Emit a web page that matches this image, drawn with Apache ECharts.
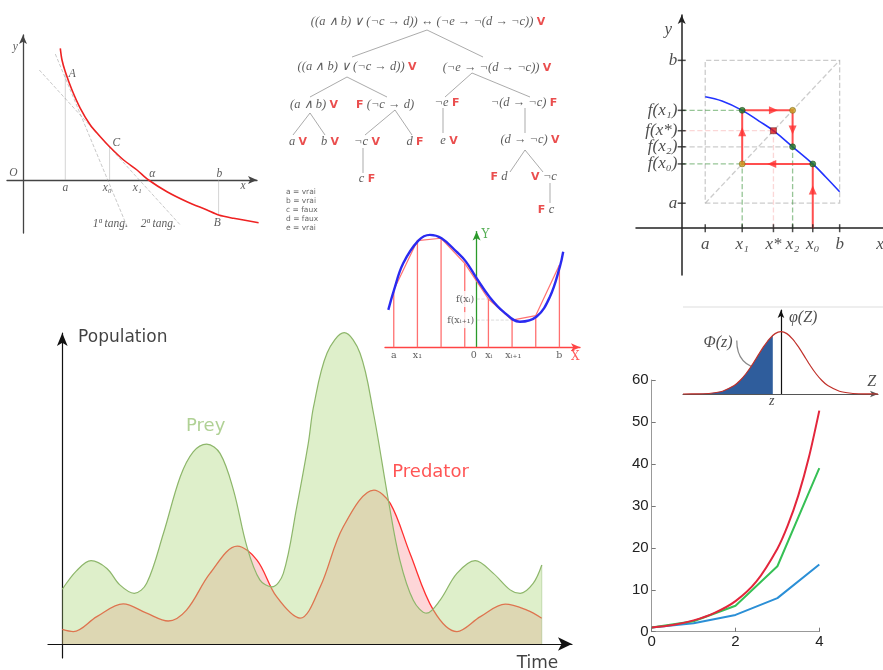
<!DOCTYPE html>
<html>
<head>
<meta charset="utf-8">
<script src="https://cdn.jsdelivr.net/npm/echarts@6/dist/echarts.min.js"></script>
<style>
html, body { margin: 0; padding: 0; background: #fff; }
#main { width: 883px; height: 670px; }
</style>
</head>
<body>
<div id="main"></div>
<script>
// ---------- newton's method (top left)
const newtonCurve = [[3.73,13.17],[3.9,12.0],[4.23,10.83],[4.9,9.0],[5.73,7.17],[6.73,5.5],[7.73,4.33],[8.66,3.33],[10.06,2.0],[11.4,1.0],[12.56,0],[14.4,-1.17],[16.4,-2.17],[18.4,-3.0],[19.56,-3.5],[21.06,-3.83],[23.56,-4.27]];
const newtonTangents = [[[3.23,12.6],[10.43,-4.7]], [[1.63,11.0],[15.73,-4.5]]];
const newtonFeet = [[4.23,10.83],[8.66,3.33],[19.56,-3.5]];
const newtonText = [['y',-0.77,13.3],['O',-0.97,0.7],['x',22.0,-0.6],['a',4.23,-0.75],['x₀',8.43,-0.8],['x₁',11.43,-0.8],['α',12.93,0.6],['b',19.63,0.6],['A',4.93,10.6],['C',9.33,3.7],['B',19.43,-4.3],['1ª tang.',8.73,-4.4],['2ª tang.',13.53,-4.4]];

// ---------- truth tree (top middle)
const treeNodes = [
  ['((a ∧ b) ∨ (¬c → d)) ↔ (¬e → ¬(d → ¬c))','V',148,22,0],
  ['((a ∧ b) ∨ (¬c → d))','V',77,67,0],
  ['(¬e → ¬(d → ¬c))','V',217,68,0],
  ['(a ∧ b)','V',34,105,0],
  ['(¬c → d)','F',105,105,1],
  ['¬e','F',167,103,0],
  ['¬(d → ¬c)','F',244,103,0],
  ['a','V',18,142,0],
  ['b','V',50,142,0],
  ['¬c','V',87,142,0],
  ['d','F',135,142,0],
  ['e','V',169,141,0],
  ['(d → ¬c)','V',250,140,0],
  ['c','F',87,179,0],
  ['d','F',219,177,1],
  ['¬c','V',264,177,1],
  ['c','F',266,210,1]
];
const treeEdges = [[[147,30],[72,57]],[[147,30],[203,57]],[[67,77],[30,97]],[[67,77],[107,97]],[[192,73],[165,97]],[[192,73],[250,97]],[[30,113],[13,135]],[[30,113],[45,135]],[[115,110],[85,135]],[[115,110],[132,135]],[[163,108],[163,133]],[[245,108],[245,133]],[[83,148],[83,173]],[[245,150],[230,172]],[[245,150],[263,172]],[[270,183],[270,203]]];
const treeLegend = ['a = vrai','b = vrai','c = faux','d = faux','e = vrai'];

// ---------- fixed point iteration (top right)
const cwA = 0.7, cwB = 4.7;
const cwTicksX = [0.7,1.8,2.73,3.3,3.9,4.7];
const cwNamesX = ['a','x₁','x*','x₂','x₀','b'];
const cwTicksY = [0.7,1.8,2.28,2.73,3.3,4.7];
const cwNamesY = ['a','f(x₀)','f(x₂)','f(x*)','f(x₁)','b'];
const cwCurve = [[0.7,3.68],[1.2,3.56],[1.8,3.3],[2.3,3.0],[2.73,2.73],[3.3,2.28],[3.9,1.8],[4.3,1.42],[4.7,1.02]];
const cwPath = [[3.9,0],[3.9,1.8],[1.8,1.8],[1.8,3.3],[3.3,3.3],[3.3,2.28]];
const cwArrows = [[3.9,1.07,0],[2.68,1.8,90],[1.8,2.7,0],[2.73,3.3,-90],[3.3,2.75,180]];
const cwDotsGreen = [[1.8,3.3],[3.3,2.28],[3.9,1.8]];
const cwDotsGold = [[3.3,3.3],[1.8,1.8]];
const cwFixed = [[2.73,2.73]];

// ---------- trapezoid rule (middle)
const trapX = [-3.5,-2.5,-1.5,-0.5,0.5,1.5,2.5,3.5];
const trapY = [2.42,4.51,4.61,3.55,2.04,1.15,1.34,3.48];
const trapCurve = [[-3.73,1.58],[-3.49,2.42],[-3.1,3.55],[-2.46,4.51],[-1.97,4.75],[-1.48,4.61],[-0.85,4.04],[-0.45,3.62],[0,2.92],[0.54,2.14],[1.13,1.51],[1.83,1.08],[2.54,1.3],[3.1,2.14],[3.52,3.41],[3.66,4.04]];
const trapNames = [['a',-3.5],['x₁',-2.5],['0',-0.12],['xᵢ',0.52],['xᵢ₊₁',1.55],['b',3.5]];

// ---------- normal distribution (right middle)
const bellZ = [-4.19,-3.5,-3,-2.5,-2,-1.75,-1.5,-1.25,-1,-0.75,-0.5,-0.25,0,0.25,0.5,0.75,1,1.25,1.5,1.75,2,2.5,3,3.5,4.15];
const bellPhi = [0,0.003,0.012,0.045,0.135,0.216,0.325,0.458,0.607,0.755,0.882,0.969,1,0.969,0.882,0.755,0.607,0.458,0.325,0.216,0.135,0.045,0.012,0.003,0];
const bellCut = -0.35;
const bellCutPhi = 0.94;

// ---------- growth curves (bottom right)
const expX = [0,1,2,3,4];
const expBlue = [1,2,4,8,16];
const expGreen = [1,2.5,6.2,15.6,39];
const expRedX = [0,0.5,1,1.5,2,2.5,3,3.25,3.5,3.75,4];
const expRed = [1,1.6,2.7,4.5,7.3,12,19.8,25.4,32.5,41.5,52.7];

// ---------- predator / prey (bottom left)
const preyData = [[0,17.6],[3,23.6],[6,26.8],[9.3,24.3],[12,19],[15,16.3],[17.6,19.5],[21.1,35.6],[24.6,53.8],[27.3,61.8],[30.1,64.3],[32.9,61.3],[35.7,49.5],[38.5,31.3],[41.2,20.6],[43.7,18.4],[46.1,22.7],[48.9,44.1],[51.3,64.5],[52.4,76.3],[55.2,93.5],[58.8,100.1],[62.1,93.5],[64.9,74.2],[68,46.3],[70.4,27],[73.2,14.1],[76,9.9],[78.8,14.1],[82.3,22.7],[86.1,26.8],[89.9,22.7],[93.4,17.4],[95.5,16.3],[98.2,19.5],[100,25.4]];
const predData = [[0,4.7],[2.3,4],[7.2,8.8],[12.7,12.9],[17.6,9.9],[22.1,7.4],[25.9,10.9],[30.8,22.7],[36.5,31.5],[40.6,27],[44.7,15.2],[49.6,8.3],[53.8,18.4],[58.6,37.7],[65,49.5],[68.4,45.2],[72.5,29.2],[77.4,10.9],[82.3,4],[87.2,8.8],[92.4,12.8],[96.9,10.9],[100,8.3]];

const serif = 'Liberation Serif';
const chart = echarts.init(document.getElementById('main'));

function ax(gi, min, max, extra) {
  return Object.assign({
    gridIndex: gi, type: 'value', min: min, max: max,
    splitLine: { show: false }, axisTick: { show: false },
    axisLabel: { show: false }, axisLine: { show: false }
  }, extra || {});
}
function arrowLine(color, width, size, noArrow) {
  return { show: true, onZero: true, symbol: noArrow ? 'none' : ['none', 'arrow'],
    symbolSize: size || [6, 9], lineStyle: { color: color, width: width } };
}
function texts(gi, items, label) {
  return {
    type: 'scatter', xAxisIndex: gi, yAxisIndex: gi, symbolSize: 0, clip: false, silent: true, z: 10,
    data: items.map(d => ({ value: [d[1], d[2]], name: d[0] })),
    label: Object.assign({ show: true, position: 'inside', formatter: p => p.name, color: '#333' }, label)
  };
}
function segs(gi, list, style, extra) {
  return Object.assign({
    type: 'lines', coordinateSystem: 'cartesian2d', xAxisIndex: gi, yAxisIndex: gi,
    polyline: true, silent: true, clip: false,
    data: list.map(c => ({ coords: c })), lineStyle: style
  }, extra || {});
}
function curve(gi, data, color, width, extra) {
  return Object.assign({
    type: 'line', xAxisIndex: gi, yAxisIndex: gi, data: data, showSymbol: false, silent: true,
    clip: false, lineStyle: { color: color, width: width }
  }, extra || {});
}

const grid = [
  { left: 7, top: 35, width: 250, height: 198 },        // 0 newton
  { left: 280, top: 0, width: 320, height: 235 },       // 1 tree
  { left: 636, top: 15, width: 247, height: 260 },      // 2 cobweb
  { left: 385, top: 231.6, width: 195, height: 115.7 }, // 3 trapezoid
  { left: 683, top: 310, width: 195, height: 84 },      // 4 bell
  { left: 651.7, top: 380, width: 167.6, height: 251.7 }, // 5 growth
  { left: 48, top: 333, width: 524, height: 325 }       // 6 predator/prey
];

const xAxis = [
  ax(0, -1.6, 23.4, { axisLine: arrowLine('#444', 1.3, [6, 9]) }),
  ax(1, 0, 320),
  ax(2, -1.36, 5.99, { axisLine: arrowLine('#222', 1.5, null, true) }),
  ax(3, -3.87, 4.37, { axisLine: arrowLine('#ff4444', 1.3, [6, 9]) }),
  ax(4, -4.19, 4.15, { axisLine: arrowLine('#555', 1.2, [5, 8]) }),
  { gridIndex: 5, type: 'value', min: 0, max: 4, interval: 2, splitLine: { show: false },
    axisLine: { lineStyle: { color: '#999' } }, axisTick: { inside: true, length: 4, lineStyle: { color: '#777' } },
    axisLabel: { color: '#222', fontSize: 15, fontFamily: 'Liberation Sans', margin: 3 } },
  ax(6, -2.98, 106.3, { axisLine: arrowLine('#111', 1.2, [10, 14]) })
];
const yAxis = [
  ax(0, -5.3, 14.5, { axisLine: arrowLine('#444', 1.3, [6, 9]) }),
  ax(1, 0, 235, { inverse: true }),
  ax(2, -1.31, 5.97, { axisLine: arrowLine('#222', 1.5, [6, 9]) }),
  ax(3, 0, 4.89, { axisLine: arrowLine('#2a9a2a', 1.3, [6, 9]) }),
  ax(4, 0, 1.348, { axisLine: arrowLine('#111', 1.2, [5, 8]) }),
  { gridIndex: 5, type: 'value', min: 0, max: 60, interval: 10, splitLine: { show: false },
    axisLine: { show: true, lineStyle: { color: '#999' } }, axisTick: { show: true, inside: true, length: 4, lineStyle: { color: '#777' } },
    axisLabel: { color: '#222', fontSize: 15, fontFamily: 'Liberation Sans', margin: 3 } },
  ax(6, -4.5, 100, { axisLine: arrowLine('#111', 1.2, [8, 13]) })
];

const series = [];

// newton
series.push(segs(0, newtonFeet.map(p => [[p[0], 0], p]), { color: '#aaa', width: 1 }));
series.push(segs(0, newtonTangents, { color: '#888', width: 0.9, type: 'dashed' }));
series.push(curve(0, newtonCurve, '#ee2222', 1.6, { smooth: 0.3 }));
series.push(texts(0, newtonText, { fontFamily: serif, fontStyle: 'italic', fontSize: 11.5, color: '#333' }));

// tree
series.push(segs(1, treeEdges, { color: '#444', width: 0.9 }));
series.push(texts(1, treeNodes.map(n => {
  const t = '{t|' + n[0] + '}', m = '{m|' + n[1] + '}';
  return [n[4] ? m + ' ' + t : t + ' ' + m, n[2], n[3]];
}), {
  rich: {
    t: { fontFamily: serif, fontStyle: 'italic', fontSize: 12.5, color: '#333' },
    m: { fontFamily: 'DejaVu Sans', fontWeight: 'bold', fontSize: 11, color: '#e52222' }
  }
}));
series.push(texts(1, treeLegend.map((s, i) => [s, 6, 192 + i * 9]), {
  position: 'right', distance: 0, fontFamily: 'DejaVu Sans', fontSize: 7.5, color: '#444'
}));

// cobweb
const dash = { type: 'dashed', width: 1.3 };
series.push(segs(2, [[[cwA, cwA], [cwB, cwA], [cwB, cwB], [cwA, cwB], [cwA, cwA]], [[cwA, cwA], [cwB, cwB]], [[0, 2.28], [3.3, 2.28]]],
  Object.assign({ color: '#999' }, dash)));
series.push(segs(2, [[[0, 3.3], [1.8, 3.3]], [[0, 1.8], [1.8, 1.8]], [[1.8, 0], [1.8, 1.8]], [[3.3, 0], [3.3, 2.28]]],
  Object.assign({ color: '#2e8b2e' }, dash)));
series.push(segs(2, [[[0, 2.73], [2.73, 2.73]], [[2.73, 0], [2.73, 2.73]]], Object.assign({ color: '#f7b0b0' }, dash)));
series.push(curve(2, cwCurve, '#2233ff', 1.6, { smooth: 0.4 }));
series.push(segs(2, [cwPath], { color: '#ff3030', width: 2, opacity: 0.85 }));
series.push({ type: 'scatter', xAxisIndex: 2, yAxisIndex: 2, silent: true, z: 6,
  data: cwArrows.map(a => ({ value: [a[0], a[1]], symbolRotate: a[2] })),
  symbol: 'triangle', symbolSize: [8, 9], itemStyle: { color: '#ff3030' } });
series.push({ type: 'scatter', xAxisIndex: 2, yAxisIndex: 2, silent: true, z: 7, data: cwDotsGreen,
  symbolSize: 6, itemStyle: { color: '#227a22', borderColor: '#1a3a1a', borderWidth: 0.6 } });
series.push({ type: 'scatter', xAxisIndex: 2, yAxisIndex: 2, silent: true, z: 7, data: cwDotsGold,
  symbolSize: 6, itemStyle: { color: '#c8a020', borderColor: '#6a5a10', borderWidth: 0.6 } });
series.push({ type: 'scatter', xAxisIndex: 2, yAxisIndex: 2, silent: true, z: 7, data: cwFixed,
  symbol: 'rect', symbolSize: 6, itemStyle: { color: '#e01818', borderColor: '#551010', borderWidth: 0.6 } });
series.push({ type: 'scatter', xAxisIndex: 2, yAxisIndex: 2, silent: true, z: 5,
  data: cwTicksX.map(v => [v, 0]), symbol: 'rect', symbolSize: [1.5, 8], itemStyle: { color: '#222' } });
series.push({ type: 'scatter', xAxisIndex: 2, yAxisIndex: 2, silent: true, z: 5,
  data: cwTicksY.map(v => [0, v]), symbol: 'rect', symbolSize: [8, 1.5], itemStyle: { color: '#222' } });
const cwLabel = { fontFamily: serif, fontStyle: 'italic', fontSize: 17, color: '#222' };
series.push(texts(2, cwTicksX.map((v, i) => [cwNamesX[i], v, -0.45]).concat([['x', 5.9, -0.45]]), cwLabel));
series.push(texts(2, cwTicksY.map((v, i) => [cwNamesY[i], -0.1, v]), Object.assign({ position: 'left', distance: 1 }, cwLabel)));
series.push(texts(2, [['y', -0.4, 5.55]], cwLabel));

// trapezoid
series.push({ type: 'bar', xAxisIndex: 3, yAxisIndex: 3, silent: true, barWidth: 1.3,
  data: trapX.map((x, i) => [x, trapY[i]]), itemStyle: { color: '#ff7070' } });
series.push(segs(3, [[[0, 2.04], [0.5, 2.04]], [[0, 1.15], [1.5, 1.15]]], { color: '#aaa', width: 0.8, type: 'dashed' }));
series.push(curve(3, trapX.map((x, i) => [x, trapY[i]]), '#ff7070', 1.2));
series.push(curve(3, trapCurve, '#2a2af0', 2.4, { smooth: 0.4 }));
series.push(texts(3, trapNames.map(n => [n[0], n[1], -0.36]), { fontFamily: 'DejaVu Serif', fontSize: 9.5, color: '#333' }));
series.push(texts(3, [['f(xᵢ)', -0.06, 2.04], ['f(xᵢ₊₁)', -0.06, 1.15]],
  { position: 'left', distance: 0, fontFamily: 'DejaVu Serif', fontSize: 9.5, color: '#333', backgroundColor: '#fff', padding: [3, 1] }));
series.push(texts(3, [['X', 4.17, -0.4]], { fontFamily: 'DejaVu Serif', fontSize: 12, color: '#ff3333' }));
series.push(texts(3, [['Y', 0.37, 4.75]], { fontFamily: 'DejaVu Serif', fontSize: 12, color: '#2a9a2a' }));

// bell
const bellPts = bellZ.map((z, i) => [z, bellPhi[i]]);
series.push(segs(4, [[[-4.19, 1.396], [4.36, 1.396]]], { color: '#bbb', width: 1 }));
series.push(curve(4, bellPts.filter(p => p[0] < bellCut).concat([[bellCut, bellCutPhi], [bellCut, 0]]),
  '#2f5d9c', 0, { areaStyle: { color: '#2f5d9c', opacity: 1 } }));
series.push(curve(4, bellPts, '#c0302a', 1.2, { smooth: 0.2 }));
series.push(segs(4, [[[-1.89, 0.86], [-0.8, 0.4]]], { color: '#111', width: 1.2, curveness: -0.45 },
  { polyline: false, symbol: ['none', 'arrow'], symbolSize: 7 }));
series.push(texts(4, [['z', -0.4, -0.12]], { fontFamily: serif, fontStyle: 'italic', fontSize: 14, color: '#222' }));
series.push(texts(4, [['Z', 3.88, 0.2], ['φ(Z)', 0.95, 1.22], ['Φ(z)', -2.69, 0.82]],
  { fontFamily: serif, fontStyle: 'italic', fontSize: 16, color: '#222' }));

// growth
series.push(curve(5, expX.map((x, i) => [x, expBlue[i]]), '#2b8fd6', 2));
series.push(curve(5, expX.map((x, i) => [x, expGreen[i]]), '#36c055', 2));
series.push(curve(5, expRedX.map((x, i) => [x, expRed[i]]), '#e3263c', 2, { smooth: 0.3 }));

// predator / prey (prey drawn above predator, so the predator line shows through its fill)
series.push(curve(6, predData, '#ff3030', 1.3, { z: 2, smooth: 0.35, areaStyle: { color: 'rgba(245,60,70,0.3)' } }));
series.push(curve(6, preyData, '#8db66a', 1.2, { z: 3, smooth: 0.35, areaStyle: { color: 'rgba(175,215,125,0.58)' } }));
series.push(segs(6, [[[100, 0], [100, 25.4]]], { color: '#9cc080', width: 1 }, { z: 3 }));
series.push(texts(6, [['Population', 3.3, 98.4]], { position: 'right', distance: 0, fontFamily: 'DejaVu Sans', fontSize: 17, color: '#111' }));
series.push(texts(6, [['Time', 99.1, -6.2]], { fontFamily: 'DejaVu Sans', fontSize: 17, color: '#111' }));
series.push(texts(6, [['Prey', 29.9, 70.1]], { fontFamily: 'DejaVu Sans', fontSize: 18, color: '#9cc57a' }));
series.push(texts(6, [['Predator', 76.8, 55.1]], { fontFamily: 'DejaVu Sans', fontSize: 18, color: '#ff2b2b' }));

chart.setOption({ animation: false, backgroundColor: '#fff', grid: grid, xAxis: xAxis, yAxis: yAxis, series: series });
</script>
</body>
</html>
